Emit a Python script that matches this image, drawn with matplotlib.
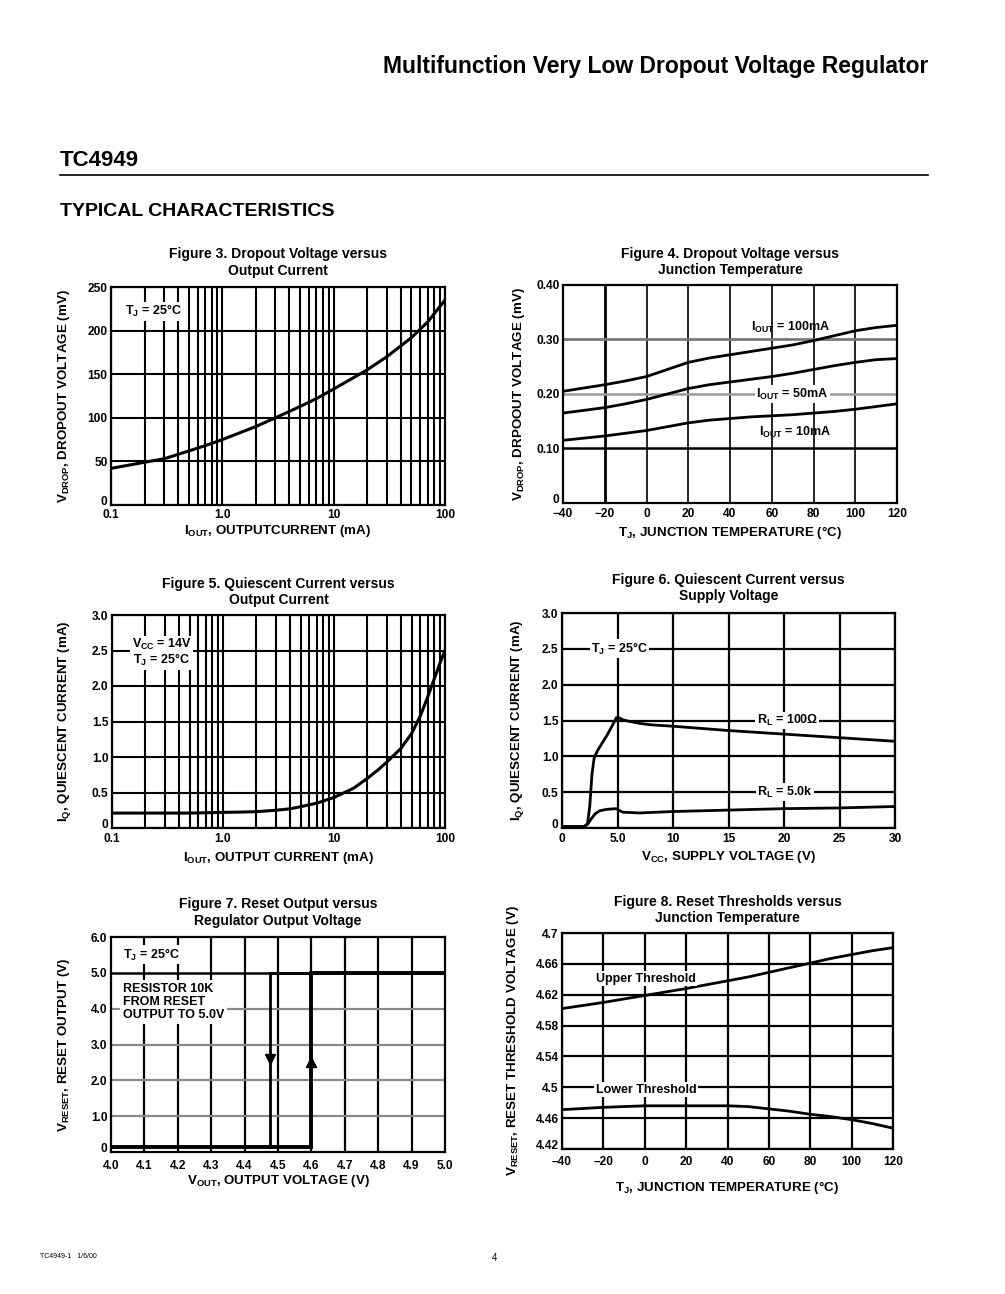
import numpy as np
import matplotlib
matplotlib.use("Agg")
import matplotlib.pyplot as plt
from matplotlib.ticker import NullFormatter, FixedLocator

plt.rcParams['font.family'] = ['Liberation Sans', 'DejaVu Sans']
plt.rcParams['font.weight'] = 'bold'
plt.rcParams['mathtext.fontset'] = 'custom'
plt.rcParams['mathtext.rm'] = 'Liberation Sans:bold'
plt.rcParams['mathtext.it'] = 'Liberation Sans:bold'
plt.rcParams['mathtext.bf'] = 'Liberation Sans:bold'

# ---- data ----
# Figure 3: dropout voltage vs output current
f3_iout = [0.1, 0.2, 0.3, 0.5, 0.7, 1.0, 2.0, 3.0, 5.0, 7.0, 10, 20, 30, 50, 70, 100]
f3_vdrop = [42, 49, 53, 62, 68, 75, 90, 100, 113, 122, 133, 155, 170, 192, 210, 235]

# Figure 4: dropout voltage vs junction temperature
f4_temp = [-40, -30, -20, -10, 0, 10, 20, 30, 40, 50, 60, 70, 80, 90, 100, 110, 120]
f4_100ma = [0.205, 0.211, 0.217, 0.224, 0.232, 0.245, 0.258, 0.266, 0.272, 0.278,
            0.284, 0.290, 0.298, 0.307, 0.316, 0.322, 0.326]
f4_50ma = [0.165, 0.170, 0.175, 0.182, 0.190, 0.200, 0.210, 0.217, 0.222, 0.227,
           0.232, 0.238, 0.245, 0.252, 0.258, 0.263, 0.265]
f4_10ma = [0.115, 0.119, 0.123, 0.128, 0.133, 0.140, 0.147, 0.152, 0.155, 0.158,
           0.160, 0.162, 0.165, 0.168, 0.172, 0.177, 0.182]

# Figure 5: quiescent current vs output current
f5_iout = [0.1, 0.5, 1.0, 1.5, 2.0, 3.0, 4.0, 5.0, 7.0, 10, 15, 20, 25, 30, 40, 50, 60, 70, 80, 90, 100]
f5_iq = [0.21, 0.21, 0.22, 0.225, 0.23, 0.25, 0.27, 0.30, 0.35, 0.43, 0.56, 0.70, 0.82, 0.93,
         1.12, 1.33, 1.58, 1.85, 2.10, 2.32, 2.50]

# Figure 6: quiescent current vs supply voltage
f6_vcc_a = [0, 2.0, 2.3, 2.5, 2.7, 2.9, 3.2, 3.6, 4.0, 4.5, 4.9, 5.1, 5.5, 6.0, 7.0, 8.0,
            10, 15, 20, 25, 30]
f6_100r = [0.02, 0.02, 0.06, 0.30, 0.75, 0.98, 1.08, 1.18, 1.28, 1.42, 1.54, 1.54, 1.51,
           1.49, 1.46, 1.44, 1.42, 1.36, 1.31, 1.26, 1.21]
f6_vcc_b = [0, 2.0, 2.3, 2.6, 3.0, 3.4, 4.0, 4.9, 5.2, 5.5, 7.0, 10, 15, 20, 25, 30]
f6_5k = [0.02, 0.02, 0.05, 0.12, 0.20, 0.24, 0.26, 0.27, 0.24, 0.22, 0.21, 0.23, 0.25,
         0.27, 0.28, 0.30]

# Figure 7: reset output vs regulator output voltage (hysteresis)
f7_rise_v = [4.0, 4.6, 4.6, 5.0]
f7_rise_r = [0.15, 0.15, 5.0, 5.0]
f7_fall_v = [4.6, 4.475, 4.475]
f7_fall_r = [5.0, 5.0, 0.15]

# Figure 8: reset thresholds vs junction temperature
f8_temp = [-40, -20, 0, 20, 40, 50, 60, 70, 80, 90, 100, 110, 120]
f8_upper = [4.602, 4.610, 4.619, 4.628, 4.638, 4.643, 4.649, 4.655, 4.661, 4.667,
            4.672, 4.677, 4.681]
f8_lower = [4.471, 4.474, 4.476, 4.476, 4.476, 4.475, 4.472, 4.469, 4.465, 4.462,
            4.458, 4.453, 4.447]

W, H = 1005, 1294
fig = plt.figure(figsize=(W / 100, H / 100), dpi=100)

TICK = 8.6
LAB = 9.6
TTL = 10.0
ANN = 9.0
WHITE = dict(facecolor='white', edgecolor='none', pad=1.0)


def add_ax(l, t, r, b):
    ax = fig.add_axes([l / W, 1 - b / H, (r - l) / W, (b - t) / H])
    ax._box = (l, t, r, b)
    return ax


def style(ax, title, xlabel, ylabel, title_pad, xlab_y, ylab_x, xpad=2.5):
    l, t, r, b = ax._box
    for s in ax.spines.values():
        s.set_linewidth(1.6)
        s.set_zorder(5)
    ax.tick_params(which='both', length=0, labelsize=TICK, pad=2.5)
    ax.tick_params(axis='x', pad=xpad)
    # lowest y label sits a little above the corner, as in the datasheet
    ax.yaxis.get_major_ticks()[0].label1.set_verticalalignment('baseline')
    ax.set_title(title, fontsize=TTL, fontweight='bold', pad=title_pad, linespacing=1.2)
    ax.set_xlabel(xlabel, fontsize=LAB, fontweight='bold')
    ax.set_ylabel(ylabel, fontsize=LAB, fontweight='bold')
    # place axis labels by their pixel centres on the page
    ax.xaxis.set_label_coords(0.5, -(xlab_y - b) / (b - t))
    ax.xaxis.label.set_verticalalignment('center')
    ax.yaxis.set_label_coords(-(l - ylab_x) / (r - l), 0.5)
    ax.yaxis.label.set_verticalalignment('center')
    ax.yaxis.label.set_horizontalalignment('center')


def log_axis(ax):
    ax.set_xscale('log')
    ax.set_xlim(0.1, 100)
    ax.xaxis.set_major_locator(FixedLocator([0.1, 1, 10, 100]))
    ax.set_xticklabels(['0.1', '1.0', '10', '100'])
    minors = [m * d for d in [0.1, 1, 10] for m in range(2, 10)]
    ax.xaxis.set_minor_locator(FixedLocator(minors))
    ax.xaxis.set_minor_formatter(NullFormatter())
    ax.grid(True, which='both', axis='x', color='black', lw=1.5)


# ---------- header ----------
fig.text(928 / W, 1 - 66 / H, 'Multifunction Very Low Dropout Voltage Regulator',
         ha='right', va='center', fontsize=16.5, fontweight='bold')
fig.text(60 / W, 1 - 160 / H, 'TC4949', ha='left', va='center', fontsize=16, fontweight='bold')
fig.add_artist(plt.Line2D([60 / W, 928 / W], [1 - 175 / H, 1 - 175 / H], color='black', lw=1.2))
fig.text(60 / W, 1 - 211 / H, 'TYPICAL CHARACTERISTICS', ha='left', va='center',
         fontsize=14, fontweight='bold')

# ---------- Figure 3 ----------
ax = add_ax(111, 287, 445, 505)
log_axis(ax)
ax.set_ylim(0, 250)
ax.set_yticks([0, 50, 100, 150, 200, 250])
ax.grid(True, axis='y', color='black', lw=1.5)
ax.plot(f3_iout, f3_vdrop, color='black', lw=2.2, zorder=4)
ax.text(0.134, 222, 'T$_{\\mathrm{J}}$ = 25°C', fontsize=ANN, va='center', ha='left',
        bbox=WHITE, zorder=6)
style(ax, 'Figure 3. Dropout Voltage versus\nOutput Current',
      r'I$_{\mathrm{OUT}}$, OUTPUTCURRENT (mA)', r'V$_{\mathrm{DROP}}$, DROPOUT VOLTAGE (mV)',
      9, 531, 64, xpad=3)

# ---------- Figure 4 ----------
ax = add_ax(563, 285, 897, 503)
ax.set_xlim(-40, 120)
ax.set_ylim(0, 0.40)
ax.set_xticks(range(-40, 121, 20))
ax.set_yticks([0, 0.1, 0.2, 0.3, 0.4])
ax.set_yticklabels(['0', '0.10', '0.20', '0.30', '0.40'])
for xv in range(-20, 120, 20):
    ax.axvline(xv, color='black', lw=2.0 if xv == -20 else 1.2)
ax.axhline(0.1, color='black', lw=1.8)
ax.axhline(0.2, color='#9a9a9a', lw=1.8)
ax.axhline(0.3, color='#7a7a7a', lw=2.0)
ax.plot(f4_temp, f4_100ma, color='black', lw=2.0, zorder=4)
ax.plot(f4_temp, f4_50ma, color='black', lw=2.0, zorder=4)
ax.plot(f4_temp, f4_10ma, color='black', lw=2.0, zorder=4)
ax.text(69, 0.322, 'I$_{\\mathrm{OUT}}$ = 100mA', fontsize=ANN, ha='center', va='center')
ax.text(70, 0.200, 'I$_{\\mathrm{OUT}}$ = 50mA', fontsize=ANN, ha='center', va='center',
        bbox=WHITE, zorder=6)
ax.text(71, 0.129, 'I$_{\\mathrm{OUT}}$ = 10mA', fontsize=ANN, ha='center', va='center')
style(ax, 'Figure 4. Dropout Voltage versus\nJunction Temperature',
      'T$_{\\mathrm{J}}$, JUNCTION TEMPERATURE (°C)', r'V$_{\mathrm{DROP}}$, DRPOOUT VOLTAGE (mV)',
      8, 533, 519, xpad=3.5)

# ---------- Figure 5 ----------
ax = add_ax(112, 615, 445, 828)
log_axis(ax)
ax.set_ylim(0, 3.0)
ax.set_yticks(np.arange(0, 3.01, 0.5))
ax.set_yticklabels(['0', '0.5', '1.0', '1.5', '2.0', '2.5', '3.0'])
ax.grid(True, axis='y', color='black', lw=1.5)
ax.plot(f5_iout, f5_iq, color='black', lw=2.2, zorder=4)
ax.text(0.28, 2.47, 'V$_{\\mathrm{CC}}$ = 14V\nT$_{\\mathrm{J}}$ = 25°C', fontsize=ANN,
        ha='center', va='center', linespacing=1.0, bbox=WHITE, zorder=6)
style(ax, 'Figure 5. Quiescent Current versus\nOutput Current',
      r'I$_{\mathrm{OUT}}$, OUTPUT CURRENT (mA)', r'I$_{\mathrm{Q}}$, QUIESCENT CURRENT (mA)',
      8, 858, 65, xpad=3.5)

# ---------- Figure 6 ----------
ax = add_ax(562, 613, 895, 828)
ax.set_xlim(0, 30)
ax.set_ylim(0, 3.0)
ax.set_xticks([0, 5, 10, 15, 20, 25, 30])
ax.set_xticklabels(['0', '5.0', '10', '15', '20', '25', '30'])
ax.set_yticks(np.arange(0, 3.01, 0.5))
ax.set_yticklabels(['0', '0.5', '1.0', '1.5', '2.0', '2.5', '3.0'])
ax.grid(True, color='black', lw=1.6)
ax.plot(f6_vcc_a, f6_100r, color='black', lw=2.0, zorder=4)
ax.plot(f6_vcc_b, f6_5k, color='black', lw=2.0, zorder=4)
ax.text(5.2, 2.5, 'T$_{\\mathrm{J}}$ = 25°C', fontsize=ANN, ha='center', va='center',
        bbox=WHITE, zorder=6)
ax.text(20.3, 1.5, r'R$_{\mathrm{L}}$ = 100$\Omega$', fontsize=ANN, ha='center', va='center',
        bbox=WHITE, zorder=6)
ax.text(20.1, 0.5, r'R$_{\mathrm{L}}$ = 5.0k', fontsize=ANN, ha='center', va='center',
        bbox=WHITE, zorder=6)
style(ax, 'Figure 6. Quiescent Current versus\nSupply Voltage',
      r'V$_{\mathrm{CC}}$, SUPPLY VOLTAGE (V)', r'I$_{\mathrm{Q}}$, QUIESCENT CURRENT (mA)',
      9.5, 857, 518, xpad=3.5)

# ---------- Figure 7 ----------
ax = add_ax(111, 937, 445, 1152)
ax.set_xlim(4.0, 5.0)
ax.set_ylim(0, 6.0)
ax.set_xticks(np.round(np.arange(4.0, 5.01, 0.1), 1))
ax.set_xticklabels([f'{v:.1f}' for v in np.arange(4.0, 5.01, 0.1)])
ax.set_yticks(range(0, 7))
ax.set_yticklabels(['0', '1.0', '2.0', '3.0', '4.0', '5.0', '6.0'])
for xv in np.arange(4.1, 4.95, 0.1):
    ax.axvline(xv, color='black', lw=1.6)
for yv in [1, 2, 3, 4]:
    ax.axhline(yv, color='#8a8a8a', lw=1.6)
ax.axhline(5, color='black', lw=1.8)
ax.plot(f7_rise_v, f7_rise_r, color='black', lw=2.8, zorder=4, solid_joinstyle='miter')
ax.plot(f7_fall_v, f7_fall_r, color='black', lw=2.0, zorder=4, solid_joinstyle='miter')
ax.plot([4.475], [2.6], marker='v', color='black', ms=7.5, zorder=5)
ax.plot([4.6], [2.5], marker='^', color='black', ms=7.5, zorder=5)
ax.text(4.036, 5.5, 'T$_{\\mathrm{J}}$ = 25°C', fontsize=ANN, ha='left', va='center',
        bbox=WHITE, zorder=6)
ax.text(4.036, 4.19, 'RESISTOR 10K\nFROM RESET\nOUTPUT TO 5.0V', fontsize=ANN, ha='left',
        va='center', linespacing=1.1, bbox=dict(facecolor='white', edgecolor='none', pad=2),
        zorder=6)
style(ax, 'Figure 7. Reset Output versus\nRegulator Output Voltage',
      r'V$_{\mathrm{OUT}}$, OUTPUT VOLTAGE (V)', r'V$_{\mathrm{RESET}}$, RESET OUTPUT (V)',
      9, 1181, 64, xpad=5.5)

# ---------- Figure 8 ----------
ax = add_ax(562, 933, 893, 1149)
ax.set_xlim(-40, 120)
ax.set_ylim(4.42, 4.70)
ax.set_xticks(range(-40, 121, 20))
ax.set_xticklabels(['\u201340', '\u201320', '0', '20', '40', '60', '80', '100', '120'])
ax.set_yticks([4.42, 4.46, 4.50, 4.54, 4.58, 4.62, 4.66, 4.70])
ax.set_yticklabels(['4.42', '4.46', '4.5', '4.54', '4.58', '4.62', '4.66', '4.7'])
ax.grid(True, color='black', lw=1.6)
ax.plot(f8_temp, f8_upper, color='black', lw=2.0, zorder=4)
ax.plot(f8_temp, f8_lower, color='black', lw=2.0, zorder=4)
ax.text(0.6, 4.641, 'Upper Threshold', fontsize=ANN, ha='center', va='center',
        bbox=WHITE, zorder=6)
ax.text(0.6, 4.497, 'Lower Threshold', fontsize=ANN, ha='center', va='center',
        bbox=WHITE, zorder=6)
style(ax, 'Figure 8. Reset Thresholds versus\nJunction Temperature',
      'T$_{\\mathrm{J}}$, JUNCTION TEMPERATURE (°C)',
      r'V$_{\mathrm{RESET}}$, RESET THRESHOLD VOLTAGE (V)', 8, 1188, 513, xpad=5)

# ---------- footer ----------
fig.text(40 / W, 1 - 1257 / H, 'TC4949-1   1/6/00', fontsize=5, fontweight='normal',
         ha='left', va='center')
fig.text(494 / W, 1 - 1258 / H, '4', fontsize=7, fontweight='normal', ha='center', va='center')

fig.savefig('out.png', dpi=100, facecolor='white')
